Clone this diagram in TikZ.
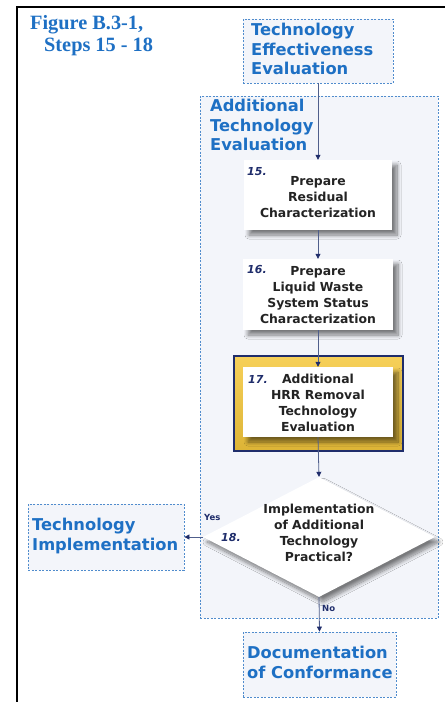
\documentclass[tikz,border=0pt]{standalone}
\usepackage{fontspec}
\setmainfont{DejaVu Sans}
\newfontfamily\titlefont{Liberation Serif}
\usetikzlibrary{shapes.geometric,shadows,shadows.blur,arrows.meta}
\definecolor{bluetxt}{RGB}{30,112,196}
\definecolor{dashblue}{RGB}{80,140,205}
\definecolor{lightfill}{RGB}{243,245,250}
\definecolor{navy}{RGB}{31,45,107}
\definecolor{boxtxt}{RGB}{35,35,35}
\definecolor{gold}{RGB}{245,200,60}
\definecolor{linec}{RGB}{80,95,140}
\tikzset{
  dashbox/.style={draw=dashblue, line width=0.8pt, dash pattern=on 2pt off 1.5pt, fill=lightfill, inner sep=0pt},
  bluelbl/.style={text=bluetxt, font=\bfseries\fontsize{16.3}{19.7}\selectfont, align=left, anchor=north west, inner sep=0pt},
  stepbox/.style={fill=white, inner sep=0pt, blur shadow={shadow xshift=5pt, shadow yshift=-5pt, shadow blur steps=10, shadow blur radius=4pt, shadow opacity=50}},
  steptxt/.style={text=boxtxt, font=\bfseries\fontsize{12.4}{15.8}\selectfont, align=center, inner sep=0pt},
  stepnum/.style={text=navy, font=\bfseries\itshape\fontsize{11}{13}\selectfont, anchor=west, inner sep=0pt},
  conn/.style={draw=linec, line width=0.8pt, -{Triangle[length=5pt,width=5pt,fill=navy,color=navy]}},
  smalllbl/.style={text=navy, font=\bfseries\fontsize{8.5}{10}\selectfont, inner sep=0pt}
}
\begin{document}
\begin{tikzpicture}[x=1pt,y=-1pt]
\useasboundingbox (0,0) rectangle (445,702);
\fill[white] (0,0) rectangle (445,702);
\draw[line width=2pt] (17,702) -- (17,7) -- (445,7);

% title
\node[anchor=north west, inner sep=0pt, text=bluetxt, font=\titlefont\bfseries\fontsize{20.3}{22.5}\selectfont, align=left] (title) at (30,15) {Figure B.3-1,\\\hspace*{14pt}Steps 15 - 18};

% container
\node[dashbox, minimum width=238pt, minimum height=522pt] (cont) at (319,357) {};
\node[bluelbl] (conttitle) at (210,99) {Additional\\Technology\\Evaluation};

% top box
\node[dashbox, minimum width=150pt, minimum height=64pt] (tee) at (318,51) {};
\node[bluelbl] (teetxt) at (251,23) {Technology\\Effectiveness\\Evaluation};

% step 15
\node[stepbox, minimum width=148pt, minimum height=70pt] (s15) at (318,195) {};
\node[steptxt] (s15t) at (318,197) {Prepare\\Residual\\Characterization};
\node[stepnum] (n15) at (247,172) {15.};

% step 16
\node[stepbox, minimum width=150pt, minimum height=71pt] (s16) at (318,294.5) {};
\node[steptxt] (s16t) at (318,295) {Prepare\\Liquid Waste\\System Status\\Characterization};
\node[stepnum] (n16) at (247,270) {16.};

% step 17
\node[draw=navy, line width=2pt, top color=gold!85!white, bottom color=gold!90!black, minimum width=169pt, minimum height=95pt, inner sep=0pt] (f17) at (318.5,403.5) {};
\node[stepbox, minimum width=150pt, minimum height=70pt] (s17) at (318,402) {};
\node[steptxt] (s17t) at (318,403) {Additional\\HRR Removal\\Technology\\Evaluation};
\node[stepnum] (n17) at (248,379) {17.};

% step 18 diamond
\node[diamond, fill=white, minimum width=232pt, minimum height=120pt, inner sep=0pt, blur shadow={shadow xshift=4pt, shadow yshift=-5pt, shadow blur steps=10, shadow blur radius=4pt, shadow opacity=50}] (d18) at (319,537) {};
\node[steptxt] (d18t) at (319,533) {Implementation\\of Additional\\Technology\\Practical?};
\node[stepnum] (n18) at (221,537) {18.};

% outcome boxes
\node[dashbox, minimum width=156pt, minimum height=66pt] (ti) at (106,537) {};
\node[bluelbl] (tit) at (32,518) {Technology\\Implementation};
\node[dashbox, minimum width=153pt, minimum height=65pt] (doc) at (319.5,664.5) {};
\node[bluelbl] (doct) at (247,646) {Documentation\\of Conformance};

% connectors
\draw[conn] (tee.south) -- (s15.north);
\draw[conn] (s15.south) -- (s16.north);
\draw[conn] (s16.south) -- (s17.north);
\draw[conn] (s17.south) -- (d18.north);
\draw[conn] (d18.west) -- (ti.east);
\draw[conn] (d18.south) -- (doc.north);

\node[smalllbl, anchor=west] (yes) at (204,517) {Yes};
\node[smalllbl, anchor=west] (no) at (322,608) {No};
\end{tikzpicture}
\end{document}
